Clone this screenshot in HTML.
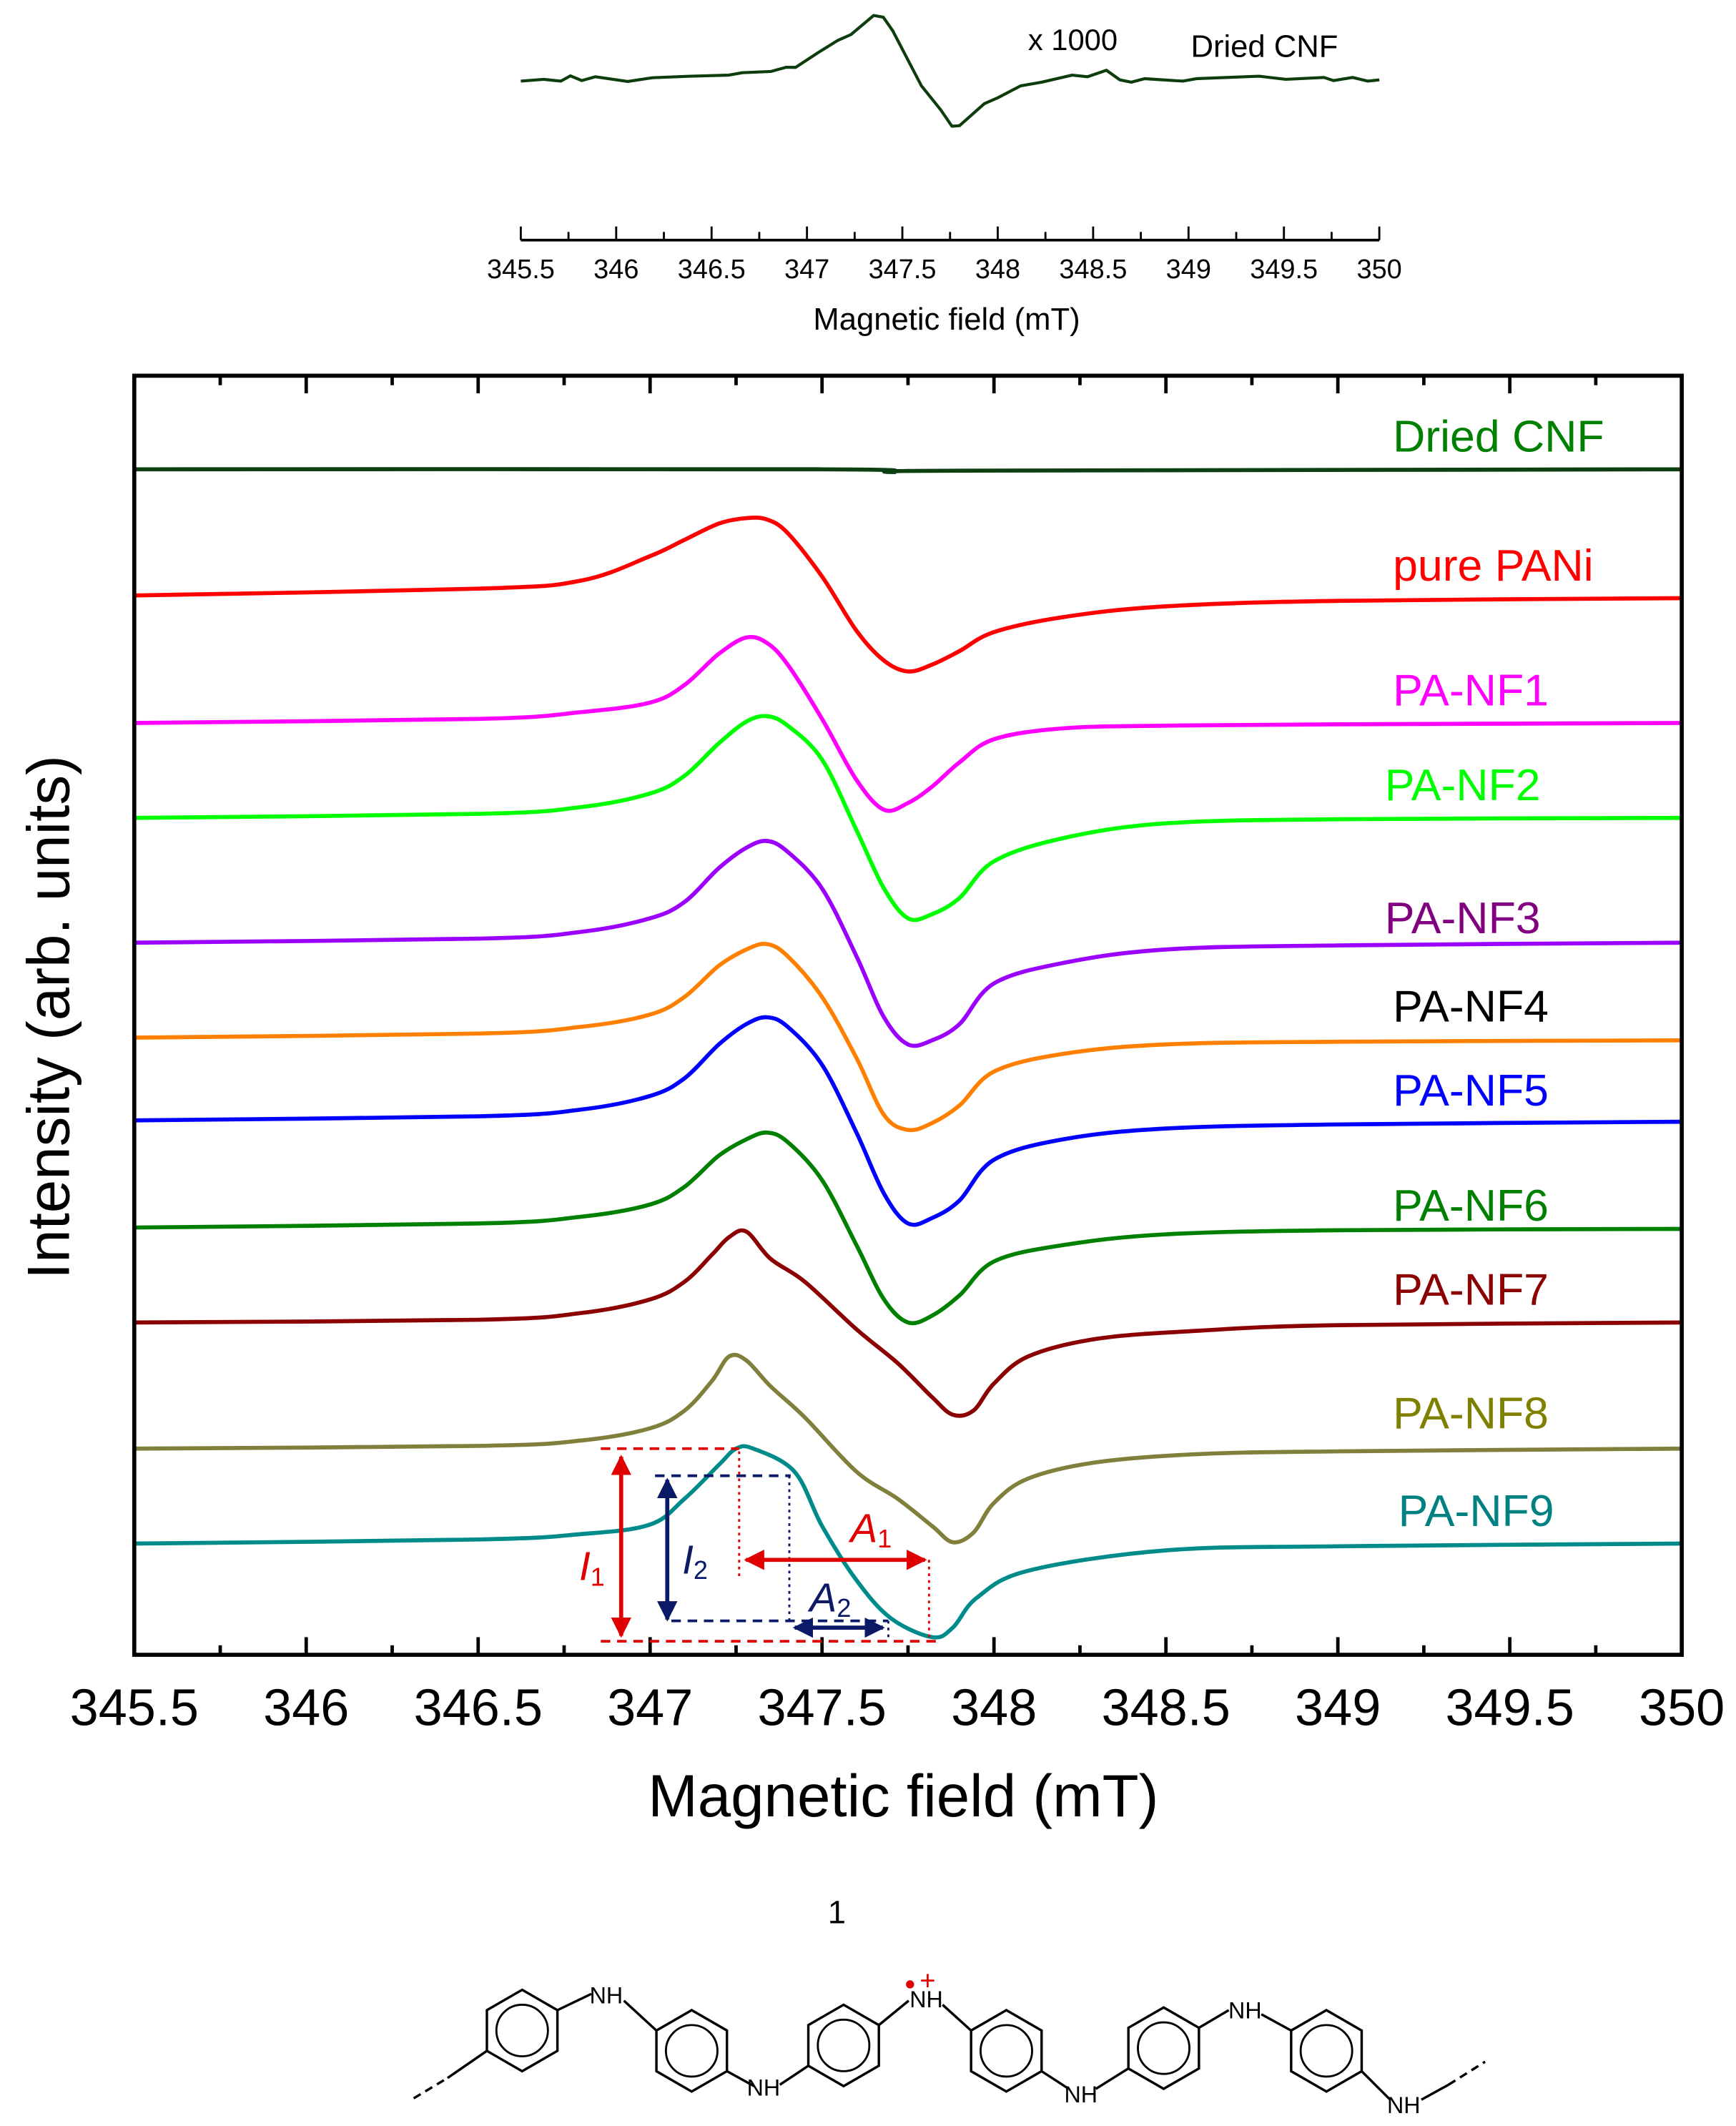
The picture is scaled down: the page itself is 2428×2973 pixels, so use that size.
<!DOCTYPE html>
<html><head><meta charset="utf-8"><style>
html,body{margin:0;padding:0;background:#fff}
svg{display:block}
text{font-family:"Liberation Sans",sans-serif}
</style></head><body>
<svg id="fig" xmlns="http://www.w3.org/2000/svg" width="2428" height="2973" viewBox="0 0 1280 1567.4" preserveAspectRatio="none">
<g id="inset"></g>
<g id="main"></g>
<g id="annot"></g>
<text x="617" y="1418" font-family="Liberation Serif,serif" font-size="24" text-anchor="middle">1</text>
<g id="chem"></g>
</svg>
<script>
// ---------- data ----------
const insetFields=[345.5,345.62,345.71,345.76,345.82,345.89,346.06,346.19,346.39,346.59,346.66,346.81,346.89,346.94,347.06,347.16,347.23,347.35,347.4,347.45,347.6,347.7,347.76,347.8,347.93,348.0,348.12,348.23,348.39,348.47,348.57,348.64,348.7,348.77,348.97,349.04,349.37,349.51,349.71,349.76,349.86,349.94,350];
const insetValues=[-0.8,0.5,-0.8,3.1,-0.4,2.4,-1.1,1.7,2.8,3.6,5.4,6.3,9.4,9.3,20.3,29.1,33.5,47.6,46.3,36.2,-4.3,-21.8,-34.1,-33.6,-17.4,-13.1,-4.3,-1.6,3.6,2.4,7.2,0.1,-1.6,1,-0.8,1,2.8,0.5,1.9,-0.4,1.9,-0.8,0.1];
const tickLabels=["345.5","346","346.5","347","347.5","348","348.5","349","349.5","350"];
const fieldsA=[345.5,346.5,346.8,347.0,347.1,347.2,347.28,347.34,347.4,347.5,347.6,347.68,347.75,347.82,347.9,348.0,348.2,348.5,349,350];
const fieldsB=[345.5,346.5,346.8,347.0,347.1,347.18,347.23,347.28,347.35,347.45,347.6,347.72,347.82,347.88,347.94,348.0,348.1,348.3,348.6,349,350];
const fieldsC=[345.5,346.5,346.8,347.0,347.1,347.2,347.25,347.3,347.42,347.5,347.6,347.7,347.82,347.88,347.95,348.1,348.5,349,350];
const fieldsD=[345.5,347.5,347.7,347.9,350];
const driedCNF=[874,874,872,873,874];
const purePANi=[781,786,792,810,822,834,838,837,827,795,755,733,725,730,740,754,765,773,777,779];
const paNF1=[687,690,695,702,715,738,750,746,730,690,645,623,628,640,658,675,683,685,686,687];
const paNF2=[617,620,625,635,648,672,688,692,685,660,608,565,543,546,558,585,602,613,616,617];
const paNF3=[525,528,533,543,555,580,595,600,592,565,515,470,450,453,465,495,510,520,523,525];
const paNF4=[455,458,463,472,485,508,520,524,515,485,440,398,387,392,405,430,443,450,452,453];
const paNF5=[394,397,402,412,425,450,465,470,463,435,385,340,318,322,335,365,380,388,391,393];
const paNF6=[315,318,323,332,345,368,380,385,378,350,302,262,245,250,265,290,302,310,313,314];
const paNF7=[245,247,252,262,275,295,308,312,292,275,240,215,190,177,180,200,220,233,239,243,245];
const paNF8=[152,154,158,167,180,202,220,217,198,175,135,115,95,83,90,112,130,142,148,150,152];
const paNF9=[82,85,89,96,115,140,152,152,135,95,55,27,13,20,42,62,77,80,82];
const seriesNames=["Dried CNF","pure PANi","PA-NF1","PA-NF2","PA-NF3","PA-NF4","PA-NF5","PA-NF6","PA-NF7","PA-NF8","PA-NF9"];

const NS="http://www.w3.org/2000/svg";
function mk(p,tag,at,txt){const e=document.createElementNS(NS,tag);for(const k in at)e.setAttribute(k,at[k]);if(txt!==undefined)e.textContent=txt;p.appendChild(e);return e;}
function smooth(pts){let d='M'+pts[0][0].toFixed(1)+' '+pts[0][1].toFixed(1);
 for(let i=0;i<pts.length-1;i++){const p0=pts[i-1]||pts[i],p1=pts[i],p2=pts[i+1],p3=pts[i+2]||p2;
  const c1=[p1[0]+(p2[0]-p0[0])/6,p1[1]+(p2[1]-p0[1])/6],c2=[p2[0]-(p3[0]-p1[0])/6,p2[1]-(p3[1]-p1[1])/6];
  d+=' C'+c1.map(v=>v.toFixed(1)).join(' ')+' '+c2.map(v=>v.toFixed(1)).join(' ')+' '+p2[0].toFixed(1)+' '+p2[1].toFixed(1);}
 return d;}

// ---------- inset ----------
const ix=f=>384+(f-345.5)*(1017-384)/4.5;
const iy=v=>59-v;
const inset=document.getElementById('inset');
let d=insetFields.map((f,i)=>(i?'L':'M')+ix(f).toFixed(1)+' '+iy(insetValues[i]).toFixed(1)).join(' ');
const ip=mk(inset,'path',{d:d,fill:'none',stroke:'#0d3d0d','stroke-width':2.2,'stroke-linejoin':'round'});


const IA=177;
const ia=mk(inset,'line',{x1:384,y1:IA,x2:1017,y2:IA,stroke:'#000','stroke-width':2});


for(let k=0;k<=18;k++){const f=345.5+k*0.25;const maj=k%2===0;
 mk(inset,'line',{x1:ix(f),x2:ix(f),y1:IA,y2:maj?IA-10:IA-6,stroke:'#000','stroke-width':1.5});}
tickLabels.forEach((t,i)=>{const e=mk(inset,'text',{x:ix(345.5+i*0.5),y:205,'font-size':20,'text-anchor':'middle'},t);
 
 });
let e=mk(inset,'text',{x:698,y:243,'font-size':23,'text-anchor':'middle'},'Magnetic field (mT)');

e=mk(inset,'text',{x:758,y:37,'font-size':22},'x 1000');

e=mk(inset,'text',{x:878,y:42,'font-size':23},'Dried CNF');


// ---------- main ----------
const L=99,R=1240,T=277,B=1220;
const mx=f=>L+(f-345.5)*(R-L)/4.5;
const my=v=>B-v;
const main=document.getElementById('main');
const series=[
 {f:fieldsD,v:driedCNF,c:'#0d4010',lc:'#008000',lx:1027,ly:333},
 {f:fieldsA,v:purePANi,c:'#ff0000',lc:'#ff0000',lx:1027,ly:428},
 {f:fieldsA,v:paNF1,c:'#ff00ff',lc:'#ff00ff',lx:1027,ly:520},
 {f:fieldsA,v:paNF2,c:'#00ff00',lc:'#00ff00',lx:1021,ly:590},
 {f:fieldsA,v:paNF3,c:'#9b00ff',lc:'#800080',lx:1021,ly:688},
 {f:fieldsA,v:paNF4,c:'#ff8000',lc:'#000000',lx:1027,ly:753},
 {f:fieldsA,v:paNF5,c:'#0000ff',lc:'#0000ff',lx:1027,ly:815},
 {f:fieldsA,v:paNF6,c:'#008000',lc:'#008000',lx:1027,ly:900},
 {f:fieldsB,v:paNF7,c:'#8b0000',lc:'#8b0000',lx:1027,ly:962},
 {f:fieldsB,v:paNF8,c:'#80803c',lc:'#808000',lx:1027,ly:1053},
 {f:fieldsC,v:paNF9,c:'#008b8b',lc:'#008080',lx:1031,ly:1125}];
series.forEach((s,i)=>{
 const pts=s.f.map((f,j)=>[mx(f),my(s.v[j])]);
 const p=mk(main,'path',{d:smooth(pts),fill:'none',stroke:s.c,'stroke-width':3,'stroke-linejoin':'round'});
 
 
 const t=mk(main,'text',{x:s.lx,y:s.ly,'font-size':33,fill:s.lc},seriesNames[i]);
 
 
});
const frame=mk(main,'rect',{x:L,y:T,width:R-L,height:B-T,fill:'none',stroke:'#000','stroke-width':3});


for(let k=1;k<18;k++){const f=345.5+k*0.25;const len=k%2===0?13:7;
 mk(main,'line',{x1:mx(f),x2:mx(f),y1:B,y2:B-len,stroke:'#000','stroke-width':2.5});
 mk(main,'line',{x1:mx(f),x2:mx(f),y1:T,y2:T+len,stroke:'#000','stroke-width':2.5});}
tickLabels.forEach((t,i)=>{const el=mk(main,'text',{x:mx(345.5+i*0.5),y:1272,'font-size':38,'text-anchor':'middle'},t);
 
 });
e=mk(main,'text',{x:666,y:1339,'font-size':44,'text-anchor':'middle'},'Magnetic field (mT)');

e=mk(main,'text',{x:0,y:0,'font-size':44,'text-anchor':'middle',transform:'translate(51,750) rotate(-90)'},'Intensity (arb. units)');


// ---------- annotations ----------
const an=document.getElementById('annot');
const red='#e00000',navy='#0a1a66';
mk(an,'defs',{}).innerHTML='<marker id="ar" viewBox="0 0 10 10" refX="9" refY="5" markerWidth="5" markerHeight="5" orient="auto-start-reverse"><path d="M0 0L10 5L0 10z" fill="'+red+'"/></marker><marker id="an" viewBox="0 0 10 10" refX="9" refY="5" markerWidth="5" markerHeight="5" orient="auto-start-reverse"><path d="M0 0L10 5L0 10z" fill="'+navy+'"/></marker>';
const ln=(x1,y1,x2,y2,c,w,da,m)=>{const a={x1,y1,x2,y2,stroke:c,'stroke-width':w};if(da)a['stroke-dasharray']=da;if(m){a['marker-start']='url(#'+m+')';a['marker-end']='url(#'+m+')';}return mk(an,'line',a);};
ln(443,1068,545,1068,red,2,'7 5');ln(443,1210,690,1210,red,2,'7 5');
ln(483,1088,583,1088,navy,2,'7 5');ln(495,1195,655,1195,navy,2,'7 5');
ln(545,1070,545,1165,red,1.5,'2 3');ln(685,1150,685,1210,red,1.5,'2 3');
ln(582,1088,582,1197,navy,1.5,'2 3');ln(655,1195,655,1210,navy,1.5,'2 3');
ln(458,1074,458,1206,red,3,null,'ar');ln(492,1091,492,1194,navy,3,null,'an');
ln(550,1150,682,1150,red,3,null,'ar');ln(586,1200,651,1200,navy,3,null,'an');
const lab=(x,y,s,sub,c)=>{const t=mk(an,'text',{x,y,'font-size':30,fill:c,'font-family':'Liberation Serif,serif','font-style':'italic'});
 t.innerHTML=s+'<tspan font-size="19" dy="4" font-style="normal">'+sub+'</tspan>';return t;};
lab(427,1165,'I','1',red);lab(503,1160,'I','2',navy);lab(627,1137,'A','1',red);lab(597,1188,'A','2',navy);

// ---------- chemical structure ----------
const ch=document.getElementById('chem');
const rings=[[385,1497],[510,1512],[622,1508],[742,1512],[858,1510],[978,1512]];
rings.forEach(([cx,cy])=>{let p='';for(let k=0;k<6;k++){const a=Math.PI/6+k*Math.PI/3;p+=(k?'L':'M')+(cx+30*Math.cos(a)).toFixed(1)+' '+(cy+30*Math.sin(a)).toFixed(1);}
 mk(ch,'path',{d:p+'Z',fill:'none',stroke:'#000','stroke-width':1.8});mk(ch,'circle',{cx,cy,r:19,fill:'none',stroke:'#000','stroke-width':1.5});});
const bond=(a,b,c,d2,da)=>mk(ch,'line',{x1:a,y1:b,x2:c,y2:d2,stroke:'#000','stroke-width':1.8,'stroke-dasharray':da||''});
bond(305,1547,330,1532,'6 4');bond(330,1532,359,1512);
bond(411,1482,436,1470);bond(460,1475,484,1497);
bond(536,1527,556,1538);bond(575,1537,596,1523);
bond(648,1493,670,1475);bond(695,1478,716,1497);
bond(768,1527,788,1540);bond(808,1540,832,1525);
bond(884,1495,906,1482);bond(930,1485,952,1497);
bond(1004,1527,1025,1548);bond(1048,1548,1068,1537);bond(1068,1537,1095,1520,'6 4');
const nh=(x,y)=>mk(ch,'text',{x,y,'font-size':17,'text-anchor':'middle'},'NH');
nh(447,1477);nh(563,1545);nh(683,1480);nh(797,1550);nh(918,1488);nh(1035,1558);
mk(ch,'circle',{cx:671,cy:1463,r:3,fill:'#e00000'});
mk(ch,'text',{x:684,y:1467,'font-size':20,fill:'#e00000','text-anchor':'middle'},'+');
</script>
</body></html>
